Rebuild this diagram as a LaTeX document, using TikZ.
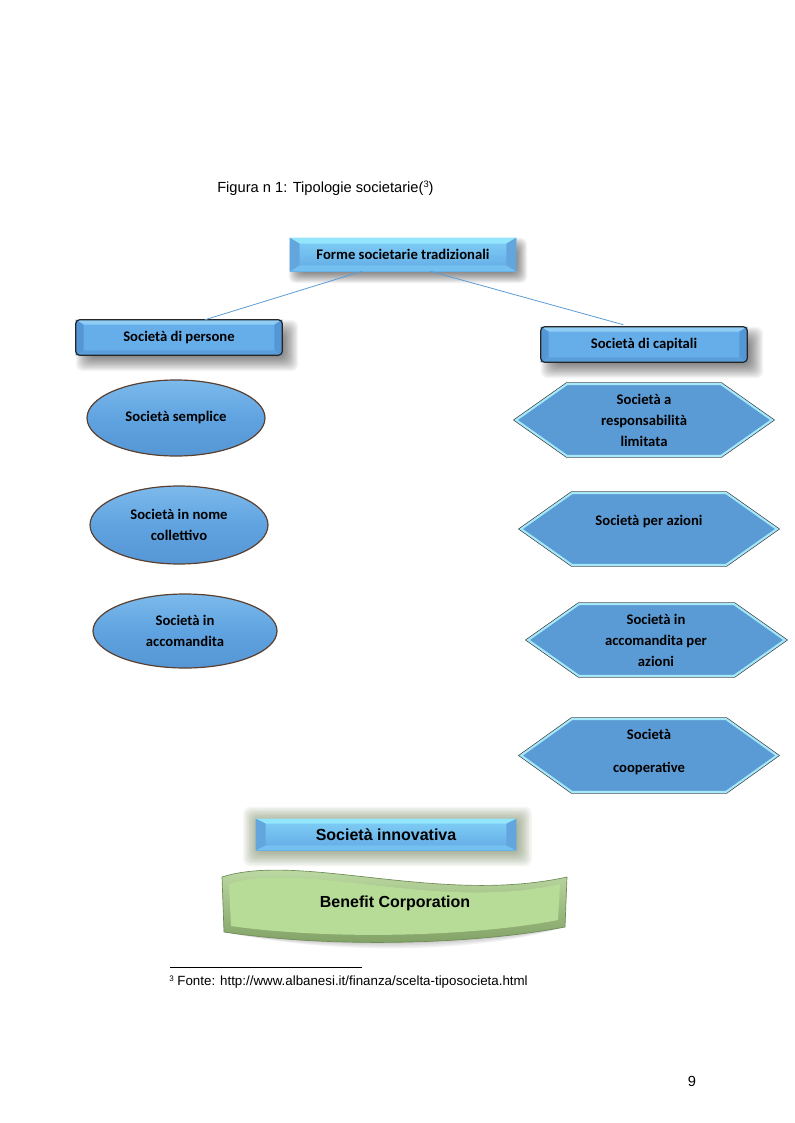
\documentclass[tikz,border=0pt]{standalone}
\usepackage{fontspec}
\setmainfont{Liberation Sans}
\newfontfamily\clb{Carlito}
\usetikzlibrary{shapes.geometric,calc}
\pgfdeclarelayer{shadowlayer}
\pgfsetlayers{shadowlayer,main}
\definecolor{hexfill}{HTML}{5B9BD5}
\definecolor{hexedge}{HTML}{3A3A3A}
\definecolor{hexin}{HTML}{A5E8FA}
\definecolor{ellfill}{HTML}{5FA3E0}
\definecolor{elltop}{HTML}{7DBAEC}
\definecolor{ellbot}{HTML}{5696D5}
\definecolor{elledge}{HTML}{5A4030}
\definecolor{btop}{HTML}{93E6FC}
\definecolor{bside}{HTML}{63A6DD}
\definecolor{bbot}{HTML}{74C0F0}
\definecolor{bcta}{HTML}{80D0F6}
\definecolor{bctb}{HTML}{63AAE6}
\definecolor{rtop}{HTML}{8FCDF6}
\definecolor{rside}{HTML}{5597D6}
\definecolor{rbot}{HTML}{5A9FDC}
\definecolor{rmid}{HTML}{66AEEA}
\definecolor{linecol}{HTML}{5B9BD5}
\definecolor{grn}{HTML}{B6DC98}
\definecolor{grntop}{HTML}{C9E6B0}
\definecolor{grndk}{HTML}{7E9E62}
\definecolor{grnline}{HTML}{6F8C56}
\definecolor{glowc}{HTML}{55683A}
\newcommand{\softsh}[6]{%
  \foreach \k in {0,...,19}{%
    \pgfmathsetmacro{\oo}{#5*(1-\k/10)}%
    \fill[#4,opacity=#6,rounded corners=5pt] ($(#1.north west)+({#2-\oo},{#3-\oo})$) rectangle ($(#1.south east)+({#2+\oo},{#3+\oo})$);
  }}
\newcommand{\bvl}[6]{% node, dx, dy, top, side, bottom
  \fill[#4] (#1.north west) -- (#1.north east) -- ($(#1.north east)+(-#2,#3)$) -- ($(#1.north west)+(#2,#3)$) -- cycle;
  \fill[#6] (#1.south west) -- (#1.south east) -- ($(#1.south east)+(-#2,-#3)$) -- ($(#1.south west)+(#2,-#3)$) -- cycle;
  \fill[#5] (#1.north west) -- ($(#1.north west)+(#2,#3)$) -- ($(#1.south west)+(#2,-#3)$) -- (#1.south west) -- cycle;
  \fill[#5] (#1.north east) -- ($(#1.north east)+(-#2,#3)$) -- ($(#1.south east)+(-#2,-#3)$) -- (#1.south east) -- cycle;}
\newcommand{\hexa}[3]{%
  \path[hexshape] ($(#1)+(-#2,0)$) -- ($(#1)+({-#2+51},-#3)$) -- ($(#1)+({#2-51},-#3)$) -- ($(#1)+(#2,0)$) -- ($(#1)+({#2-51},#3)$) -- ($(#1)+({-#2+51},#3)$) -- cycle;}
\tikzset{
  txt/.style={font=\clb\bfseries\fontsize{11}{15.75}\selectfont, align=center, text=black, inner sep=0pt},
  flatbox/.style={rectangle, inner sep=0pt, top color=bcta, bottom color=bctb, txt},
  rbox/.style={rectangle, inner sep=0pt, fill=rmid, txt},
  ell/.style={ellipse, draw=elledge, line width=0.9pt, top color=elltop, bottom color=ellbot, middle color=ellfill, txt},
  hexshape/.style={fill=hexfill, draw=hexin, line width=1.6pt, preaction={draw=hexedge, line width=2.6pt}},
  conn/.style={draw=linecol, line width=0.6pt},
  outl/.style={draw=black!85, line width=0.9pt, rounded corners=3pt}
}
\begin{document}
\begin{tikzpicture}[x=0.75pt,y=-0.75pt]
\useasboundingbox (0,0) rectangle (794,1123);
% caption
\node[anchor=west, font=\fontsize{11}{13}\selectfont, inner sep=0pt] (cap) at (217,188) {Figura n 1: Tipologie societarie({\fontsize{7}{8}\selectfont\raisebox{3.5pt}{3}})};
% top box
\node[flatbox, minimum width=169.5pt, minimum height=24.75pt] (top) at (403,254.5) {\phantom{X}};
\bvl{top}{10}{6}{btop}{bside}{bbot}
\node[txt] (toptxt) at (top.center) {Forme societarie tradizionali};
% rounded boxes
\node[rbox, minimum width=154.5pt, minimum height=26.25pt, rounded corners=3pt] (pers) at (179,337.5) {};
\bvl{pers}{8}{5}{rtop}{rside}{rbot}
\draw[outl] (pers.north west) rectangle (pers.south east);
\node[txt] (perstxt) at (pers.center) {Società di persone};
\node[rbox, minimum width=154.5pt, minimum height=26.25pt, rounded corners=3pt] (cap2) at (644,344.5) {};
\bvl{cap2}{8}{5}{rtop}{rside}{rbot}
\draw[outl] (cap2.north west) rectangle (cap2.south east);
\node[txt] (cap2txt) at (cap2.center) {Società di capitali};
% connectors
\draw[conn] ($(top.south west)!0.32!(top.south east)$) -- ($(pers.north west)!0.626!(pers.north east)$);
\draw[conn] ($(top.south west)!0.62!(top.south east)$) -- ($(cap2.north west)!0.40!(cap2.north east)+(0,-2)$);
% ellipses
\node[ell, minimum width=133.5pt, minimum height=57pt] (e1) at (176,418) {Società semplice};
\node[ell, minimum width=133.5pt, minimum height=58.5pt] (e2) at (179,525) {Società in nome\\collettivo};
\node[ell, minimum width=138pt, minimum height=55.5pt] (e3) at (185,631) {Società in\\accomandita};
% hexagons
\coordinate (h1) at (644,420);
\coordinate (h2) at (649,529);
\coordinate (h3) at (656.5,640);
\coordinate (h4) at (649,755.5);
\hexa{h1}{128}{36}
\hexa{h2}{128}{36}
\hexa{h3}{128.5}{36}
\hexa{h4}{128}{36.5}
\node[txt] (h1t) at (644,420) {Società a\\responsabilità\\limitata};
\node[txt] (h2t) at (649,522) {Società per azioni};
\node[txt] (h3t) at (656,640) {Società in\\accomandita per\\azioni};
\node[txt] (h4t) at (649,751.5) {Società\\[9pt]cooperative};
% innovativa
\node[flatbox, minimum width=195pt, minimum height=23.25pt] (inn) at (386,834.5) {};
\bvl{inn}{10}{5}{btop}{bside}{bbot}
\node[font=\bfseries\fontsize{12}{14}\selectfont, inner sep=0pt] (inntxt) at (inn.center) {Società innovativa};
% benefit corporation banner
\coordinate (w1) at (222,877);
\coordinate (w2) at (567,877);
\coordinate (w3) at (565,927);
\coordinate (w4) at (224,932);
\begin{pgfonlayer}{shadowlayer}
\foreach \s in {2,4,6,8}{
  \fill[black,opacity=0.05,shift={(\s,\s)}] (w1) .. controls (300,852) and (440,905) .. (w2) -- (w3) .. controls (470,945) and (330,948) .. (w4) -- cycle;
}
\softsh{top}{5}{6}{black}{6}{0.03}
\softsh{pers}{8}{8}{black}{8}{0.03}
\softsh{cap2}{8}{8}{black}{8}{0.03}
\softsh{inn}{1.5}{2}{glowc}{14}{0.06}
\end{pgfonlayer}
\path[top color=grntop, bottom color=grndk, draw=grnline, line width=0.5pt] (w1) .. controls (300,852) and (440,905) .. (w2) -- (w3) .. controls (470,945) and (330,948) .. (w4) -- cycle;
\fill[grn] (229,884) .. controls (300,860) and (440,912) .. (560,884) -- (558,920) .. controls (470,937) and (330,940) .. (231,926) -- cycle;
\node[font=\bfseries\fontsize{12}{14}\selectfont, inner sep=0pt] (bc) at (395,903) {Benefit Corporation};
% footnote
\coordinate (r1) at (170,967);
\coordinate (r2) at (362,967);
\draw[line width=0.5pt] (r1) -- (r2);
\node[anchor=west, font=\fontsize{10}{12}\selectfont, inner sep=0pt] (fn) at (169,982) {{\fontsize{6}{7}\selectfont\raisebox{3pt}{3}} Fonte: http://www.albanesi.it/finanza/scelta-tiposocieta.html};
\node[font=\fontsize{11}{13}\selectfont, inner sep=0pt] (pg) at (692,1081) {9};
\end{tikzpicture}
\end{document}
